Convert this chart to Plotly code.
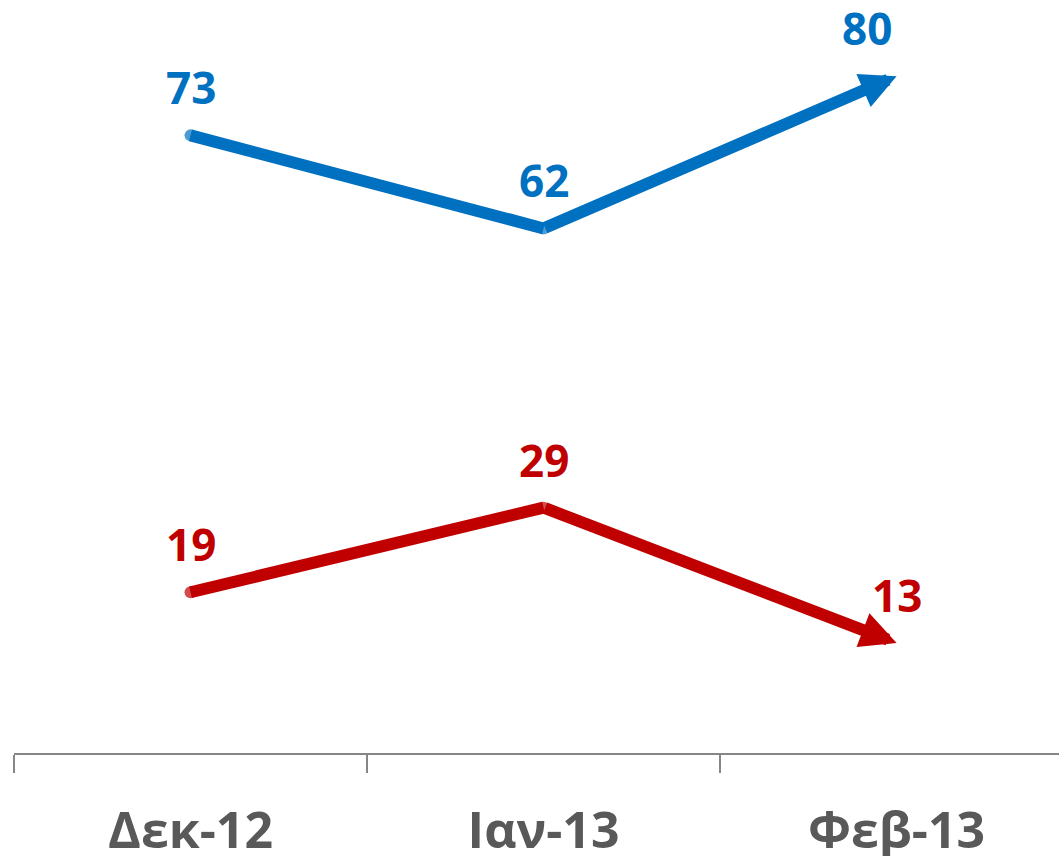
import plotly.graph_objects as go

categories = ["Δεκ-12", "Ιαν-13", "Φεβ-13"]
blue_values = [73, 62, 80]
red_values = [19, 29, 13]

BLUE = "#0070C0"
RED = "#C00000"
FONT = "Open Sans"
LW = 12

fig = go.Figure()
for vals, col in [(blue_values, BLUE), (red_values, RED)]:
    n = len(vals)
    # round caps / joins at every point except the arrow tip
    fig.add_trace(go.Scatter(
        x=categories, y=vals, mode="markers",
        marker=dict(symbol="circle", size=[LW] * (n - 1) + [0], color=col, line=dict(width=0)),
        hoverinfo="skip", showlegend=False, cliponaxis=False,
    ))
    # line through all points except the last one; the last segment is drawn as an arrow
    fig.add_trace(go.Scatter(
        x=categories[:-1], y=vals[:-1], mode="lines",
        line=dict(color=col, width=LW),
        hoverinfo="skip", showlegend=False, cliponaxis=False,
    ))
    fig.add_annotation(x=categories[-1], y=vals[-1], ax=categories[-2], ay=vals[-2],
                       xref="x", yref="y", axref="x", ayref="y", text="",
                       showarrow=True, arrowhead=2, arrowsize=0.6, arrowwidth=LW,
                       arrowcolor=col, standoff=0, startstandoff=0)

label_xshift = {("b", 2): -30}
for key, vals, col in [("b", blue_values, BLUE), ("r", red_values, RED)]:
    for i, (c, v) in enumerate(zip(categories, vals)):
        fig.add_annotation(x=c, y=v, text=str(v), showarrow=False,
                           yshift=48, xshift=label_xshift.get((key, i), 0),
                           font=dict(family=FONT, size=44, color=col, weight="bold"))

fig.update_xaxes(type="category", categoryorder="array", categoryarray=categories,
                 range=[-0.5, 2.46], tickson="boundaries",
                 ticks="outside", ticklen=18, tickcolor="#868686", tickwidth=1.5,
                 showline=True, linecolor="#868686", linewidth=1.5,
                 showgrid=False, zeroline=False, ticklabelstandoff=33,
                 automargin=False,
                 tickfont=dict(family=FONT, size=50, color="#595959", weight="bold"))
fig.update_yaxes(range=[0, 89], visible=False, showgrid=False, zeroline=False,
                 automargin=False)

fig.update_layout(width=1059, height=856, margin=dict(l=14, r=0, t=0, b=103),
                  plot_bgcolor="white", paper_bgcolor="white")

fig.write_html("out.html", config={"displayModeBar": False},
               post_script="document.body.style.margin='0';document.body.style.overflow='hidden';")
